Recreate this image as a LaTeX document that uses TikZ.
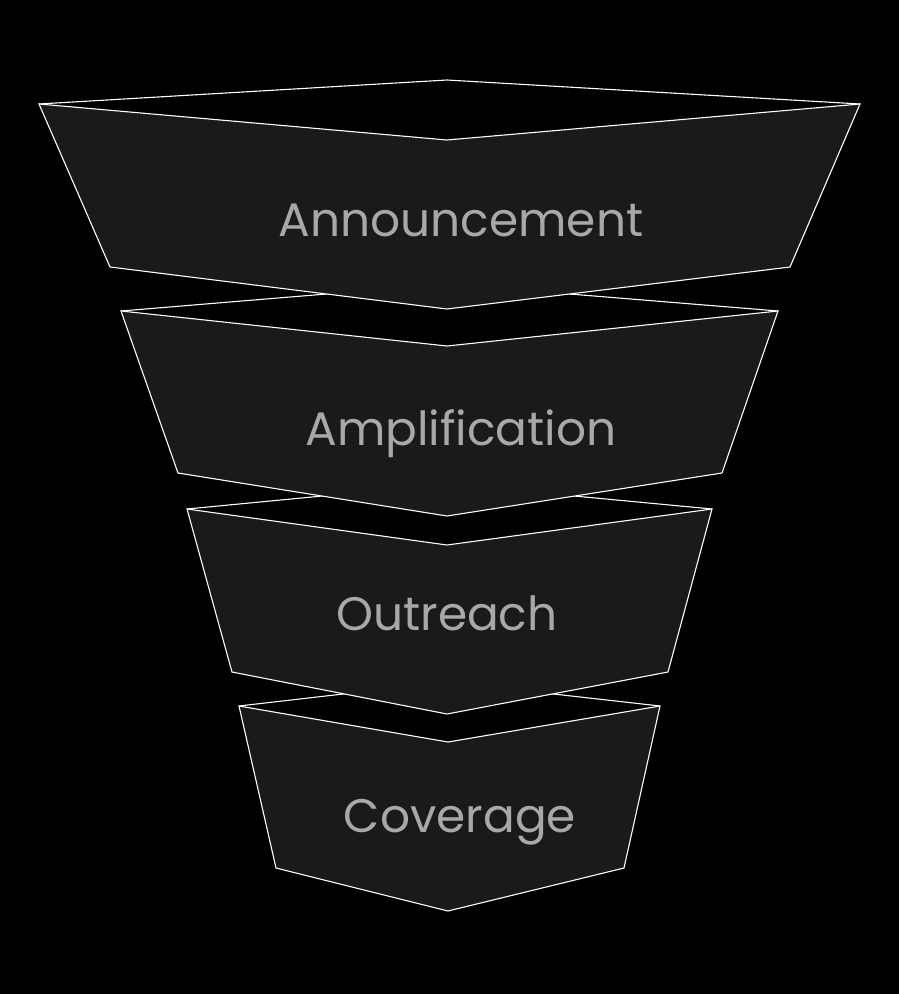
\documentclass[tikz,border=0pt]{standalone}
\usepackage{fontspec}
\setmainfont{Poppins}
\begin{document}
\begin{tikzpicture}[x=1pt,y=-1pt,
  body/.style={fill=segfill,draw=white,line width=1.1pt,line join=miter},
  lid/.style={draw=white,line width=1.1pt},
  label/.style={anchor=base,text=labelgray,inner sep=0pt,font=\fontsize{47}{53}\selectfont}]
\definecolor{segfill}{HTML}{1A1A1A}
\definecolor{labelgray}{HTML}{A8A8A8}
\fill[black] (0,0) rectangle (899,994);
\useasboundingbox (0,0) rectangle (899,994);
% segment 4
\coordinate (t4) at (447,682); \coordinate (l4) at (239,706); \coordinate (r4) at (660,706);
\coordinate (f4) at (448,742); \coordinate (bl4) at (276,868); \coordinate (b4) at (448,911); \coordinate (br4) at (624,868);
\draw[lid] (l4) -- (t4) -- (r4);
\draw[body] (l4) -- (bl4) -- (b4) -- (br4) -- (r4) -- (f4) -- cycle;
\node[label] (n4) at (460,832) {Coverage};
% segment 3
\coordinate (t3) at (447,484); \coordinate (l3) at (187,509); \coordinate (r3) at (712,509);
\coordinate (f3) at (447,545); \coordinate (bl3) at (232,672); \coordinate (b3) at (447,714); \coordinate (br3) at (668,672);
\draw[lid] (l3) -- (t3) -- (r3);
\draw[body] (l3) -- (bl3) -- (b3) -- (br3) -- (r3) -- (f3) -- cycle;
\node[label] (n3) at (447,630) {Outreach};
% segment 2
\coordinate (t2) at (447,284); \coordinate (l2) at (121,311); \coordinate (r2) at (778,311);
\coordinate (f2) at (447,346); \coordinate (bl2) at (178,473); \coordinate (b2) at (447,516); \coordinate (br2) at (722,473);
\draw[lid] (l2) -- (t2) -- (r2);
\draw[body] (l2) -- (bl2) -- (b2) -- (br2) -- (r2) -- (f2) -- cycle;
\node[label] (n2) at (461,445) {Amplification};
% segment 1
\coordinate (t1) at (447,80); \coordinate (l1) at (39,104); \coordinate (r1) at (860,104);
\coordinate (f1) at (447,140); \coordinate (bl1) at (110,267); \coordinate (b1) at (447,309); \coordinate (br1) at (790,267);
\draw[lid] (l1) -- (t1) -- (r1);
\draw[body] (l1) -- (bl1) -- (b1) -- (br1) -- (r1) -- (f1) -- cycle;
\node[label] (n1) at (461,236) {Announcement};
\end{tikzpicture}
\end{document}
